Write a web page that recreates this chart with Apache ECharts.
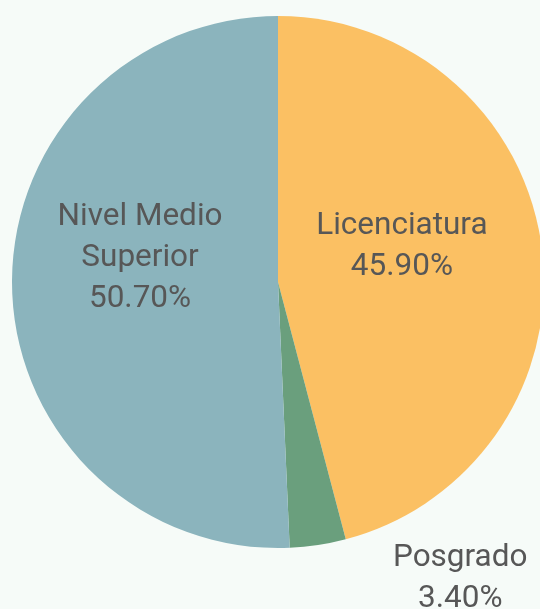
<!DOCTYPE html>
<html>
<head>
<meta charset="utf-8">
<script src="https://cdn.jsdelivr.net/npm/echarts@6/dist/echarts.min.js"></script>
<style>
  html, body { margin: 0; padding: 0; background: #f6fbf8; }
  #main { width: 540px; height: 609px; }
</style>
</head>
<body>
<div id="main"></div>
<script>
// datos del grafico
var categorias = ['Licenciatura', 'Posgrado', 'Nivel Medio\nSuperior'];
var valores = [45.9, 3.4, 50.7];
var colores = ['#fbc063', '#6a9f7d', '#8bb4bd'];

var chart = echarts.init(document.getElementById('main'), null, { renderer: 'canvas' });

var datos = categorias.map(function (c, i) {
  var item = { name: c, value: valores[i], itemStyle: { color: colores[i] } };
  if (c === 'Posgrado') {
    item.label = { position: 'outside' };
    item.labelLine = { show: false };
  }
  return item;
});

chart.setOption({
  backgroundColor: '#f6fbf8',
  animation: false,
  series: [{
    type: 'pie',
    center: [278, 282],
    radius: [0, 266],
    startAngle: 90,
    clockwise: true,
    avoidLabelOverlap: false,
    data: datos,
    label: {
      position: 'inside',
      formatter: function (p) { return p.name + '\n' + p.value.toFixed(2) + '%'; },
      fontFamily: 'Roboto',
      fontSize: 31.5,
      lineHeight: 41,
      color: '#575757',
      align: 'center'
    },
    labelLayout: function (params) {
      if (params.dataIndex === 0) return { dx: -11, dy: -18 };
      if (params.dataIndex === 2) return { dx: -2, dy: -27 };
      return { dx: 105, dy: 19, align: 'center' };
    }
  }]
});
</script>
</body>
</html>
